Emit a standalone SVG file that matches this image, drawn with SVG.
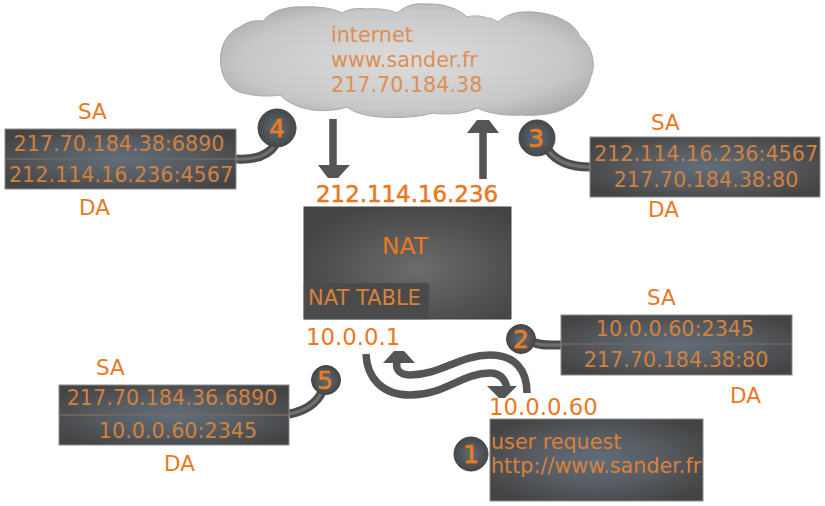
<svg xmlns="http://www.w3.org/2000/svg" width="825" height="506" viewBox="0 0 825 506">
  <style>
    text { font-family: "DejaVu Sans", sans-serif; fill: #e8791f; }
    .lbl { font-size: 21.5px; }
    .addr { font-size: 20.7px; fill: #cf8240; text-anchor: middle; }
    .num { font-size: 25px; fill: #ee7d1e; stroke: #ee7d1e; stroke-width: 0.6; text-anchor: middle; }
    .ip { font-size: 22.8px; fill: #e8791f; }
    .box { fill: url(#panel); stroke: #8a8a8a; stroke-width: 1; }
    .bub { fill: url(#bubble); stroke: #444; stroke-width: 1; }
    .tail { fill: none; stroke: #4d4d4d; stroke-width: 9; }
    .tailc { fill: none; stroke: #707070; stroke-width: 3; }
    .rule { stroke: #6d6a68; stroke-width: 1.5; }
    .flow { fill: none; stroke: #555; stroke-width: 7.5; }
    .head { fill: #555; }
    .soft { fill: #dd8f52; font-size: 20.7px; }
    .inner { fill: #d9813a; font-size: 20.7px; }
  </style>
  <defs>
    <radialGradient id="panel" cx="0.5" cy="0.5" r="0.6">
      <stop offset="0" stop-color="#5f6e7c"/>
      <stop offset="0.55" stop-color="#565a5f"/>
      <stop offset="1" stop-color="#444444"/>
    </radialGradient>
    <radialGradient id="natfill" cx="0.55" cy="0.55" r="0.62">
      <stop offset="0" stop-color="#6c6c6c"/>
      <stop offset="1" stop-color="#444444"/>
    </radialGradient>
    <radialGradient id="bubble" cx="0.5" cy="0.5" r="0.55">
      <stop offset="0" stop-color="#5e6c79"/>
      <stop offset="1" stop-color="#444444"/>
    </radialGradient>
    <radialGradient id="vapour" cx="0.5" cy="0.5" r="0.62">
      <stop offset="0" stop-color="#dcdcdc"/>
      <stop offset="0.7" stop-color="#c8c8c8"/>
      <stop offset="1" stop-color="#a6a6a6"/>
    </radialGradient>
  </defs>

  <rect width="825" height="506" fill="#ffffff"/>

  <g id="connectors">
    <!-- callout tails from the numbered bubbles to their address panels -->
    <path class="tail" d="M236 159 C255 160 268 156 275 145"/>
    <path class="tailc" d="M236 159 C255 160 268 156 275 145"/>
    <path class="tail" d="M548 150 C556 161 570 167 590 167"/>
    <path class="tailc" d="M548 150 C556 161 570 167 590 167"/>
    <path class="tail" d="M533 342 C540 346 548 345 561 345"/>
    <path class="tailc" d="M533 342 C540 346 548 345 561 345"/>
    <path class="tail" d="M289 414 C305 411 316 404 322 392"/>
    <path class="tailc" d="M289 414 C305 411 316 404 322 392"/>

    <!-- traffic between the NAT box and the cloud -->
    <path class="flow" d="M333 119 V168"/>
    <path class="head" d="M318 165 H350 L338 178 H328 Z"/>
    <path class="flow" d="M483 179 V130"/>
    <path class="head" d="M467 133 L477 120 H489 L499 133 Z"/>

    <!-- traffic between the NAT box and the user machine -->
    <path class="flow" d="M366 354 C367 378 382 395 410 395 C445 395 462 373 490 373 C500 373 505 379 507 388"/>
    <path class="head" d="M487 386 H517 L505 398 H499 Z"/>
    <path class="flow" d="M527 393 C527 370 515 355 490 355 C460 355 440 375 410 375 C399 375 394 368 398 360"/>
    <path class="head" d="M383 363 L394 351 H404 L415 363 Z"/>
  </g>

  <g id="cloud">
    <path d="M243 93 C215 88 212 38 240 27 C248 21 256 20 263 21 C272 9 292 6 303 7 C320 6 335 9 342 13 C350 8 358 8 367 9 C380 8 390 10 397 13 C407 4 418 3 427 4 C445 3 460 10 467 17 C475 15 482 16 487 18 C491 18 495 20 498 22 C508 13 520 11 533 12 C558 14 576 24 580 37 C593 46 596 66 591 76 C588 90 580 102 567 107 C555 115 535 116 520 115 C503 116 488 113 477 108 C465 114 448 115 433 113 C415 118 395 118 380 117 C365 116 353 112 347 107 C335 111 323 111 313 110 C298 108 287 102 280 95 C267 97 254 96 243 93 Z" fill="url(#vapour)" stroke="#a9a9a9" stroke-width="1"/>
    <text class="soft" x="331" y="42">internet</text>
    <text class="soft" x="331" y="67">www.sander.fr</text>
    <text class="soft" x="331" y="92">217.70.184.38</text>
  </g>

  <text x="316" y="202" font-size="22.9" stroke="#e8791f" stroke-width="0.5">212.114.16.236</text>

  <g id="nat">
    <rect x="304" y="207" width="207" height="112" fill="url(#natfill)" stroke="#444" stroke-width="1"/>
    <rect x="304" y="283" width="125" height="36" fill="#4a4a4a" stroke="#5a5a5a" stroke-width="0.5"/>
    <text x="382" y="254" font-size="23.5">NAT</text>
    <text x="308" y="305" font-size="21" style="fill:#d9813a">NAT TABLE</text>
  </g>

  <text class="ip" x="306" y="345">10.0.0.1</text>

  <g id="step4">
    <text class="lbl" x="78" y="119">SA</text>
    <text class="lbl" x="79" y="215">DA</text>
    <rect class="box" x="5" y="129" width="231" height="60"/>
    <line class="rule" x1="5" y1="159" x2="236" y2="159"/>
    <text class="addr" x="119" y="151">217.70.184.38:6890</text>
    <text class="addr" x="121" y="182">212.114.16.236:4567</text>
    <circle class="bub" cx="277" cy="128" r="19"/>
    <text class="num" x="277" y="137">4</text>
  </g>

  <g id="step3">
    <text class="lbl" x="651" y="130">SA</text>
    <text class="lbl" x="648" y="217">DA</text>
    <rect class="box" x="590" y="137" width="230" height="60"/>
    <text class="addr" x="706" y="161">212.114.16.236:4567</text>
    <text class="addr" x="706" y="187">217.70.184.38:80</text>
    <circle class="bub" cx="537" cy="138" r="18"/>
    <text class="num" x="536" y="147">3</text>
  </g>

  <g id="step2">
    <text class="lbl" x="647" y="305">SA</text>
    <text class="lbl" x="730" y="403">DA</text>
    <rect class="box" x="561" y="315" width="231" height="60"/>
    <line class="rule" x1="561" y1="344" x2="792" y2="344"/>
    <text class="addr" x="675" y="336">10.0.0.60:2345</text>
    <text class="addr" x="676" y="367">217.70.184.38:80</text>
    <circle class="bub" cx="521" cy="339" r="14.5"/>
    <text class="num" x="521" y="348">2</text>
  </g>

  <g id="step5">
    <text class="lbl" x="96" y="375">SA</text>
    <text class="lbl" x="164" y="471">DA</text>
    <rect class="box" x="59" y="385" width="230" height="60"/>
    <line class="rule" x1="59" y1="415" x2="289" y2="415" style="stroke:#7b6a5c"/>
    <text class="addr" x="172" y="405">217.70.184.36.6890</text>
    <text class="addr" x="178" y="438">10.0.0.60:2345</text>
    <circle class="bub" cx="326" cy="380" r="14.5"/>
    <text class="num" x="325" y="389">5</text>
  </g>

  <text class="ip" x="489" y="415">10.0.0.60</text>

  <g id="step1">
    <rect class="box" x="490" y="419" width="213" height="82"/>
    <text class="inner" x="491" y="449">user request</text>
    <text class="inner" x="491" y="473">http://www.sander.fr</text>
    <circle class="bub" cx="471" cy="454" r="17"/>
    <text class="num" x="471" y="463">1</text>
  </g>
</svg>
